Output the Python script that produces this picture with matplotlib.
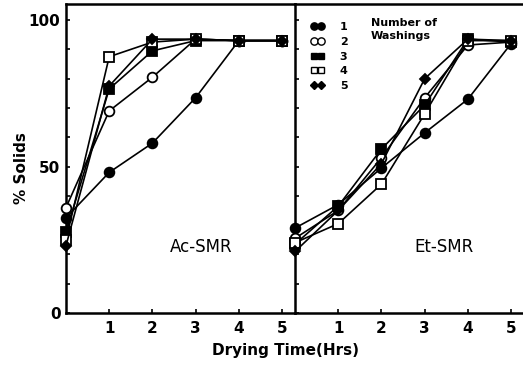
import matplotlib
matplotlib.use("Agg")
import matplotlib.pyplot as plt
from matplotlib.lines import Line2D

# drying time (hrs)
hours = [0, 1, 2, 3, 4, 5]

# % solids, Ac-SMR, by number of washings
ac_1 = [32.5, 48, 58, 73.5, 93, 93]
ac_2 = [36, 69, 80.5, 93.5, 93, 93]
ac_3 = [27.5, 76.5, 89.5, 93, 93, 93]
ac_4 = [25, 87.5, 92.5, 93.5, 93, 93]
ac_5 = [23, 77.5, 93.5, 93.5, 93, 93]

# % solids, Et-SMR, by number of washings
et_1 = [29, 37, 49.5, 61.5, 73, 92]
et_2 = [25.5, 35, 53, 73.5, 91.5, 92.5]
et_3 = [23.5, 36.5, 56, 71, 93.5, 92.5]
et_4 = [24, 30.5, 44, 68, 93, 93]
et_5 = [21, 35, 51, 80, 93.5, 93]

washings = ["1", "2", "3", "4", "5"]
xtick_vals = [1, 2, 3, 4, 5]
ytick_labels = [0, 50, 100]

styles = [
    dict(marker="o", mfc="black", ms=7),
    dict(marker="o", mfc="white", ms=7),
    dict(marker="s", mfc="black", ms=6.5),
    dict(marker="s", mfc="white", ms=6.5),
    dict(marker="D", mfc="black", ms=5.5),
]

fig = plt.figure(figsize=(5.23, 3.77), dpi=100)
ax1 = fig.add_axes([0.1262, 0.1698, 0.4379, 0.8196])
ax2 = fig.add_axes([0.5641, 0.1698, 0.4380, 0.8196])

panels = [(ax1, [ac_1, ac_2, ac_3, ac_4, ac_5], "Ac-SMR"),
          (ax2, [et_1, et_2, et_3, et_4, et_5], "Et-SMR")]

for ax, series, name in panels:
    for vals, st in zip(series, styles):
        ax.plot(hours, vals, color="black", lw=1.2, mec="black", mew=1.3,
                clip_on=False, zorder=3, **st)
    ax.set_xlim(0, 5.3)
    ax.set_ylim(0, 105.5)
    ax.set_xticks(xtick_vals)
    ax.set_xticklabels([str(v) for v in xtick_vals], fontsize=11, fontweight="bold")
    ax.set_yticks(range(0, 101, 10))
    ax.tick_params(direction="in", length=3, width=1.2, pad=6)
    ax.tick_params(axis="y", pad=4)
    ax.spines["right"].set_visible(False)
    for s in ["left", "top", "bottom"]:
        ax.spines[s].set_linewidth(1.8)
    ax.text(0.59 if ax is ax1 else 0.65, 0.215, name, transform=ax.transAxes,
            ha="center", va="center", fontsize=12)

ax1.set_yticklabels([str(v) if v in ytick_labels else "" for v in range(0, 101, 10)],
                    fontsize=11, fontweight="bold")
ax2.set_yticklabels([])

handles = [Line2D([0], [0], color="black", lw=1.2, mec="black", mew=1.0,
                  marker=st["marker"], mfc=st["mfc"], ms=st["ms"] * 0.75)
           for st in styles]
leg = ax2.legend(handles, washings, loc="upper left", bbox_to_anchor=(0.05, 0.955),
                 frameon=False, numpoints=2, handlelength=1.2, handletextpad=1.4,
                 labelspacing=0.42, borderaxespad=0,
                 prop={"size": 8, "weight": "bold"})
ax2.text(0.33, 0.955, "Number of\nWashings", transform=ax2.transAxes,
         ha="left", va="top", fontsize=8, fontweight="bold", linespacing=1.4)

fig.text(0.042, 0.554, "% Solids", rotation=90, ha="center", va="center",
         fontsize=11, fontweight="bold")
fig.text(0.545, 0.069, "Drying Time(Hrs)", ha="center", va="center",
         fontsize=11, fontweight="bold")

fig.savefig("out.png", dpi=100)
